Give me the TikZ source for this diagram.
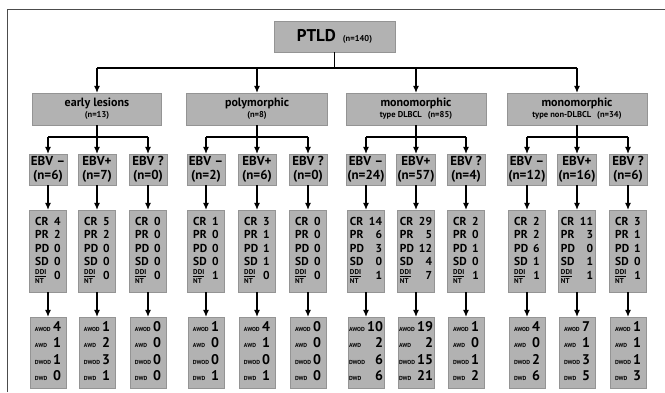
\documentclass[tikz,border=0pt]{standalone}
\usepackage{fontspec}
\setmainfont{PT Sans}
\usetikzlibrary{arrows.meta}

% tableaux des cases
\newcommand{\ddilab}{{\fontsize{7}{8.5}\selectfont\begin{tabular}[c]{@{}l@{}}\underline{DDI}\\[0.5pt]NT\end{tabular}}}
\newcommand{\restab}[5]{\fontsize{11.5}{13.6}\selectfont
  \begin{tabular}{@{}l@{\hspace{5pt}}r@{}}CR&#1\\PR&#2\\PD&#3\\SD&#4\\[-1pt]\ddilab&#5\end{tabular}}
\newcommand{\outlab}[1]{{\fontsize{5.8}{6}\selectfont #1}}
\newcommand{\outtab}[4]{\fontsize{14}{16.5}\selectfont
  \begin{tabular}{@{}l@{\hspace{2pt}}r@{}}\outlab{AWOD}&#1\\\outlab{AWD}&#2\\\outlab{DWOD}&#3\\\outlab{DWD}&#4\end{tabular}}

\begin{document}
\begin{tikzpicture}[x=1pt,y=-1pt,
    box/.style={fill=black!30, draw=black!42, line width=0.3pt, inner sep=1pt, font=\bfseries, align=center},
    arr/.style={-{Latex[length=7pt,width=6pt]}, line width=1.1pt},
    bus/.style={line width=1.1pt}]
    \useasboundingbox (0,0) rectangle (665,392);

    % Cadre
    \draw[black!70, line width=0.6pt] (7,392) -- (7,9) -- (665,9);

    % Racine
    \node[box, minimum width=121, minimum height=31] (ptld) at (334.5,36.5)
        {\fontsize{17}{17}\selectfont PTLD\hspace{7pt}{\fontsize{8.5}{9}\selectfont (n=140)}};

    % Groupes
    \node[box, minimum width=129, minimum height=32] (g1) at (97,109)
        {\fontsize{12}{13}\selectfont early lesions\\[-1pt]\fontsize{8.5}{10}\selectfont (n=13)};
    \node[box, minimum width=141, minimum height=32] (g2) at (257,109)
        {\fontsize{12}{13}\selectfont polymorphic\\[-1pt]\fontsize{8.5}{10}\selectfont (n=8)};
    \node[box, minimum width=140, minimum height=32] (g3) at (416,109)
        {\fontsize{12}{13}\selectfont monomorphic\\[-1pt]\fontsize{8.5}{10}\selectfont type DLBCL\hspace{6pt}(n=85)};
    \node[box, minimum width=140, minimum height=32] (g4) at (577,109)
        {\fontsize{12}{13}\selectfont monomorphic\\[-1pt]\fontsize{8.5}{10}\selectfont type non-DLBCL\hspace{6pt}(n=34)};

    \coordinate (top) at (334.5,68);
    \draw[bus] (ptld) -- (top);
    \draw[bus] (top -| g1) -- (top -| g4);
    \foreach \g in {g1,g2,g3,g4}
        \draw[arr] (top -| \g) -- (\g);

    % Colonnes EBV
    \foreach \n/\cx/\lab/\cnt/\xcr/\xpr/\xpd/\xsd/\xdd/\xa/\xb/\xc/\xd in {
        11/48/{EBV –}/6/4/2/0/0/0/4/1/1/0,
        12/97/{EBV+}/7/5/2/0/0/0/1/2/3/1,
        13/148/{EBV ?}/0/0/0/0/0/0/0/0/0/0,
        21/206/{EBV –}/2/1/0/0/0/1/1/0/0/1,
        22/257/{EBV+}/6/3/1/1/1/0/4/1/0/1,
        23/308/{EBV ?}/0/0/0/0/0/0/0/0/0/0,
        31/366/{EBV –}/24/14/6/3/0/1/10/2/6/6,
        32/416/{EBV+}/57/29/5/12/4/7/19/2/15/21,
        33/466/{EBV ?}/4/2/0/1/0/1/1/0/1/2,
        41/527/{EBV –}/12/2/2/6/1/1/4/0/2/6,
        42/577/{EBV+}/16/11/3/0/1/1/7/1/3/5,
        43/628/{EBV ?}/6/3/1/1/0/1/1/1/1/3} {
        \coordinate (s\n) at (\cx,137);
        \node[box, minimum width=38, minimum height=31, font=\fontsize{13}{14}\selectfont\bfseries] (e\n) at (\cx,169.5)
            {\lab\\(n=\cnt)};
        \node[box, minimum width=37, minimum height=82] (r\n) at (\cx,251)
            {\restab{\xcr}{\xpr}{\xpd}{\xsd}{\xdd}};
        \node[box, minimum width=36, minimum height=71] (o\n) at (\cx,352.5)
            {\outtab{\xa}{\xb}{\xc}{\xd}};
        \draw[arr] (s\n) -- (e\n);
        \draw[arr] (e\n) -- (r\n);
        \draw[arr] (r\n) -- (o\n);
    }

    % Fourches
    \foreach \g/\a/\c in {g1/11/13, g2/21/23, g3/31/33, g4/41/43} {
        \draw[bus] (\g) -- (\g.south |- s\a);
        \draw[bus] (s\a) -- (s\c);
    }
\end{tikzpicture}
\end{document}
